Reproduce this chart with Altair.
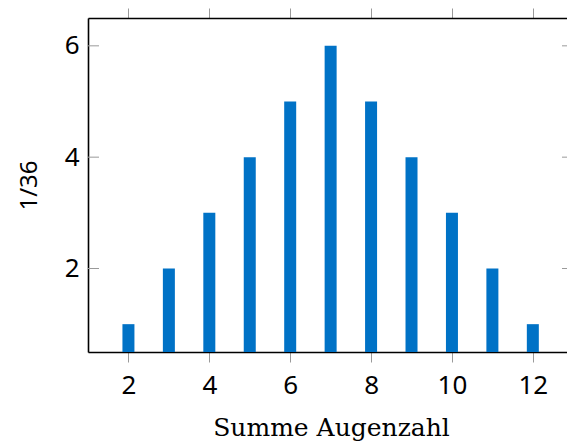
import altair as alt
import pandas as pd

sums = [2, 3, 4, 5, 6, 7, 8, 9, 10, 11, 12]
counts = [1, 2, 3, 4, 5, 6, 5, 4, 3, 2, 1]
y_ticks = [2, 4, 6]
x_ticks = [2, 4, 6, 8, 10, 12]

W = 479
H = 334
XDOM = [1, 12.845]
YDOM = [0.5, 6.5]
SERIF = "DejaVu Serif"
SANS = "Noto Sans"
BAR = "#0072C6"
TICKC = "#9a9a9a"

df = pd.DataFrame({"sum": sums, "count": counts})
ydf = pd.DataFrame({"y": y_ticks})

xs = alt.Scale(domain=XDOM, nice=False, zero=False, padding=0)
ys = alt.Scale(domain=YDOM, nice=False, zero=False, padding=0)

bars = alt.Chart(df).mark_bar(size=12, clip=True, color=BAR).encode(
    x=alt.X("sum:Q", scale=xs,
            axis=alt.Axis(values=x_ticks, title="Summe Augenzahl", orient="bottom",
                          grid=False, domainColor="black", domainWidth=1.6,
                          tickColor=TICKC, tickSize=10, tickWidth=1,
                          labelFont=SANS, labelFontSize=26, labelColor="black",
                          labelPadding=10, labelFlush=False,
                          titleFont=SERIF, titleFontSize=25, titleFontWeight="normal",
                          titleColor="black", titlePadding=17, titleX=243)),
    y=alt.Y("count:Q", scale=ys,
            axis=alt.Axis(values=y_ticks, title="1/36", orient="left", grid=False,
                          domainColor="black", domainWidth=1.6, ticks=False,
                          labelFont=SANS, labelFontSize=26, labelColor="black",
                          labelPadding=9, labelFlush=False,
                          titleFont=SANS, titleFontSize=24, titleFontWeight="normal",
                          titleColor="black", titlePadding=23)),
    y2=alt.datum(0),
)

top = alt.Chart(df).mark_point(opacity=0).encode(
    x=alt.X("sum:Q", scale=xs,
            axis=alt.Axis(values=x_ticks, title=None, orient="top", labels=False,
                          grid=False, domainColor="black", domainWidth=1.6,
                          tickColor=TICKC, tickSize=10, tickWidth=1)),
    y=alt.Y("count:Q", scale=ys, axis=None),
)

left_ticks = alt.Chart(ydf).mark_rule(color=TICKC, strokeWidth=1).encode(
    y=alt.Y("y:Q", scale=ys, axis=None),
    x=alt.value(0), x2=alt.value(11),
)
right_ticks = alt.Chart(ydf).mark_rule(color=TICKC, strokeWidth=1).encode(
    y=alt.Y("y:Q", scale=ys, axis=None),
    x=alt.value(W - 5), x2=alt.value(W),
)

chart = alt.layer(bars, top, left_ticks, right_ticks).resolve_axis(
    x="independent", y="independent"
).properties(
    width=W, height=H,
    autosize=alt.AutoSizeParams(type="none"),
    padding={"left": 88, "top": 18, "right": 0, "bottom": 89},
).configure_view(stroke=None).configure(background="white")

chart.save("out.html", embed_options={"renderer": "svg", "actions": False})
